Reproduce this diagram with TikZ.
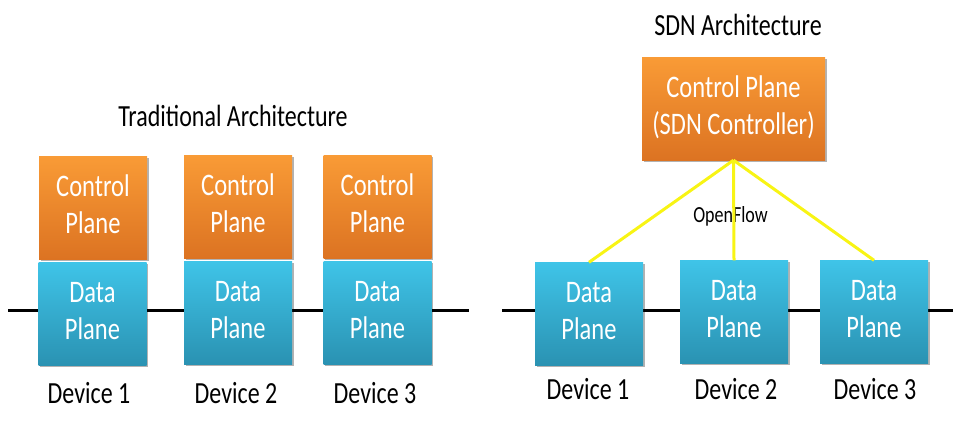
\documentclass[tikz,border=0pt]{standalone}
\usepackage{fontspec}
\setmainfont{Carlito}
\usetikzlibrary{shadows}

\definecolor{ctrltop}{HTML}{F99B36}
\definecolor{ctrlbot}{HTML}{DC7322}
\definecolor{datatop}{HTML}{3FC4E8}
\definecolor{databot}{HTML}{2A92B2}
\definecolor{flowyellow}{HTML}{F8F414}

% taller letters, as in the picture
\newcommand{\tall}[1]{\scalebox{1}[1.28]{#1}}
\newcommand{\tallstack}[1]{\scalebox{1}[1.28]{\begin{tabular}{@{}c@{}}#1\end{tabular}}}

\tikzset{
    plane/.style={minimum width=108pt, minimum height=103pt, inner sep=0pt, text=white,
        font=\fontsize{24.5}{29}\selectfont,
        drop shadow={shadow xshift=1.5pt, shadow yshift=-1.5pt, opacity=.3, fill=black}},
    ctrlplane/.style={plane, top color=ctrltop, bottom color=ctrlbot},
    dataplane/.style={plane, top color=datatop, bottom color=databot},
    label/.style={anchor=base, inner sep=0pt, font=\fontsize{24}{29}\selectfont},
    wire/.style={line width=3pt, black},
    flow/.style={line width=3pt, color=flowyellow}
}

\begin{document}
\begin{tikzpicture}[x=1pt, y=-1pt]
    \useasboundingbox (0,0) rectangle (966,424);

    % traditional architecture
    \coordinate (tw) at (8,310);
    \coordinate (te) at (469,310);
    \draw[wire] (tw)--(te);
    \node[label] (ttitle) at (233,126) {\tall{Traditional Architecture}};
    \node[ctrlplane] (tc1) at (93,207.5) {\tallstack{Control\\Plane}};
    \node[ctrlplane] (tc2) at (238,206.5) {\tallstack{Control\\Plane}};
    \node[ctrlplane] (tc3) at (377.5,206.5) {\tallstack{Control\\Plane}};
    \node[dataplane] (td1) at (92.5,314) {\tallstack{Data\\Plane}};
    \node[dataplane] (td2) at (238,312.5) {\tallstack{Data\\Plane}};
    \node[dataplane] (td3) at (377.5,312.5) {\tallstack{Data\\Plane}};
    \node[label] (tdev1) at (89,403) {\tall{Device 1}};
    \node[label] (tdev2) at (236,403) {\tall{Device 2}};
    \node[label] (tdev3) at (375,403) {\tall{Device 3}};

    % sdn architecture
    \coordinate (sw) at (502,310);
    \coordinate (se) at (953,310);
    \draw[wire] (sw)--(se);
    \node[label] (stitle) at (738,35) {\tall{SDN Architecture}};
    \node[ctrlplane, minimum width=183pt] (sc) at (733.5,108.5) {\tallstack{Control Plane\\(SDN Controller)}};
    \node[dataplane] (sd1) at (589,314) {\tallstack{Data\\Plane}};
    \node[dataplane] (sd2) at (734,312) {\tallstack{Data\\Plane}};
    \node[dataplane] (sd3) at (874,312) {\tallstack{Data\\Plane}};
    \node[label, font=\fontsize{18}{22}\selectfont] (of) at (730.5,222) {\tall{OpenFlow}};
    \draw[flow] (sc.south)--(sd1.north);
    \draw[flow] (sc.south)--(sd2.north);
    \draw[flow] (sc.south)--(sd3.north);
    \node[label] (sdev1) at (588,399) {\tall{Device 1}};
    \node[label] (sdev2) at (736,399) {\tall{Device 2}};
    \node[label] (sdev3) at (875,399) {\tall{Device 3}};
\end{tikzpicture}
\end{document}
